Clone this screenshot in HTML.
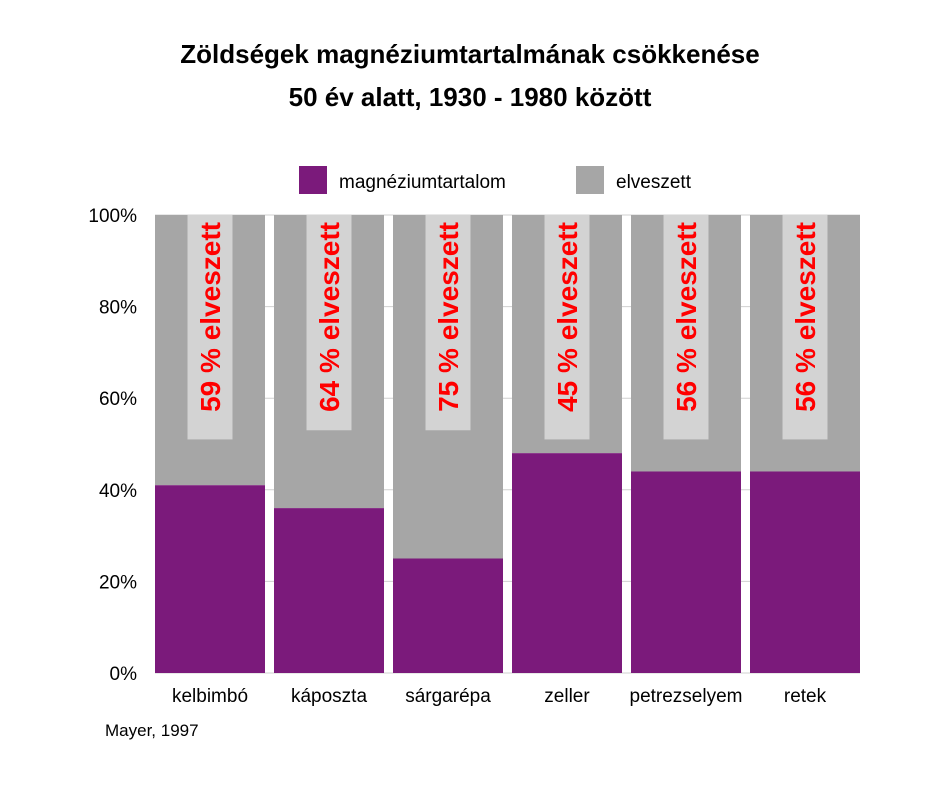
<!DOCTYPE html>
<html><head><meta charset="utf-8"><style>
body{margin:0;background:#fff;}
svg text{font-family:"Liberation Sans",Arial,sans-serif;}
</style></head><body>
<svg width="940" height="788" viewBox="0 0 940 788">
<text x="470" y="63" text-anchor="middle" font-size="26" font-weight="bold">Zöldségek magnéziumtartalmának csökkenése</text>
<text x="470" y="106" text-anchor="middle" font-size="26" font-weight="bold">50 év alatt, 1930 - 1980 között</text>
<g>
<rect x="299" y="166" width="28" height="28" fill="#7b1a7b"/>
<text x="339" y="188" font-size="19">magnéziumtartalom</text>
<rect x="576" y="166" width="28" height="28" fill="#a6a6a6"/>
<text x="616" y="188" font-size="19">elveszett</text>
</g>
<g id="grid"></g>
<g id="bars"></g>
<g id="yaxis"></g>
<g id="xaxis"></g>
<text x="105" y="736" font-size="17">Mayer, 1997</text>
</svg>
<script>
const categories=["kelbimbó","káposzta","sárgarépa","zeller","petrezselyem","retek"];
const magnesium=[41,36,25,48,44,44];
const lostLabels=["59","64","75","45","56","56"];
const labelBoxBottom=[51,53,53,51,51,51];
const yTicks=[0,20,40,60,80,100];
const NS="http://www.w3.org/2000/svg";
const x0=155,x1=860,yTop=215,yBot=673;
const n=categories.length,slot=(x1-x0+9)/n,bw=110;
const y=v=>yBot-(v/100)*(yBot-yTop);
function mk(tag,attrs,parent){const e=document.createElementNS(NS,tag);for(const k in attrs)e.setAttribute(k,attrs[k]);parent.appendChild(e);return e;}
const grid=document.getElementById('grid'),bars=document.getElementById('bars'),ya=document.getElementById('yaxis'),xa=document.getElementById('xaxis');
yTicks.forEach(t=>{
 const l=mk('line',{x1:x0,x2:x1,y1:y(t),y2:y(t),stroke:'#d0d0d0','stroke-width':1},grid);
 
 
 const tx=mk('text',{x:137,y:y(t)+7,'text-anchor':'end','font-size':19},ya);
 tx.textContent=t+'%';
 
 
});
categories.forEach((c,i)=>{
 const bx=x0+i*slot,cx=bx+bw/2;
 const g=mk('rect',{x:bx,y:yTop,width:bw,height:y(magnesium[i])-yTop,fill:'#a6a6a6'},bars);
 
 
 const p=mk('rect',{x:bx,y:y(magnesium[i]),width:bw,height:yBot-y(magnesium[i]),fill:'#7b1a7b'},bars);
 
 
 const bb=mk('rect',{x:cx-22.5,y:yTop,width:45,height:y(labelBoxBottom[i])-yTop,fill:'#d3d3d3'},bars);
 
 
 const lt=mk('text',{x:0,y:0,transform:`translate(${cx+10},${yTop+7}) rotate(-90)`,'text-anchor':'end','font-size':28,'font-weight':'bold',fill:'#ff0000'},bars);
 lt.textContent=lostLabels[i]+' % elveszett';
 
 
 const xt=mk('text',{x:cx,y:702,'text-anchor':'middle','font-size':19},xa);
 xt.textContent=c;
 
 
});
</script>
</body></html>
